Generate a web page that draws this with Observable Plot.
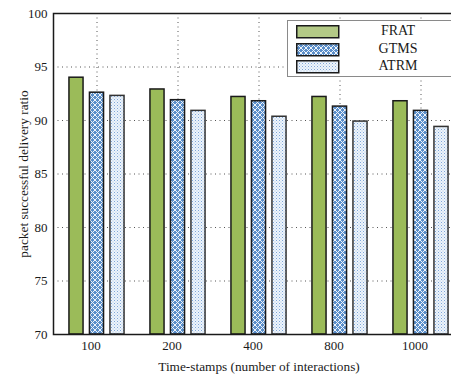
<!DOCTYPE html>
<html><head><meta charset="utf-8">
<script src="https://cdn.jsdelivr.net/npm/d3@7"></script>
<script src="https://cdn.jsdelivr.net/npm/@observablehq/plot@0.6"></script>
<style>
html,body{margin:0;padding:0;overflow:hidden;background:#fff;}
#wrap{position:relative;width:451px;height:374px;overflow:hidden;font-family:"Liberation Serif",serif;color:#1a1a1a;background:#fff;}
#wrap > svg{max-width:none !important;height:374px !important;width:470px !important;}
#legend{position:absolute;left:287px;top:20px;width:175px;height:57px;border:1.5px solid #8a8a8a;background:#fff;box-sizing:border-box;}
.row{position:absolute;left:8px;height:14px;width:170px;}
.row svg{position:absolute;left:0;top:0;}
.row span{position:absolute;left:62px;width:80px;text-align:center;top:-2px;font-size:14px;}
</style></head><body>
<svg width="0" height="0" style="position:absolute">
<defs>
<pattern id="pGTMS" width="5" height="5" patternUnits="userSpaceOnUse">
<rect width="5" height="5" fill="#5b8fca"/>
<path d="M0,0L5,5M5,0L0,5" stroke="#ffffff" stroke-width="1" opacity="0.9"/>
</pattern>
<pattern id="pATRM" width="3" height="3" patternUnits="userSpaceOnUse">
<rect width="3" height="3" fill="#eef4fb"/>
<rect x="0" y="0" width="1" height="1" fill="#7ea6d8"/>
<rect x="1.5" y="1.5" width="1" height="1" fill="#a9c4e6"/>
</pattern>
</defs>
</svg>
<div id="wrap"></div>
<script>
const groups = ["100", "200", "400", "800", "1000"];
const series = ["FRAT", "GTMS", "ATRM"];
const frat = [94.0, 92.9, 92.2, 92.2, 91.8];
const gtms = [92.6, 91.9, 91.8, 91.3, 90.9];
const atrm = [92.3, 90.9, 90.35, 89.9, 89.4];
const yTicks = [70, 75, 80, 85, 90, 95, 100];
const yDomain = [70, 100];
const xTitle = "Time-stamps (number of interactions)";
const yTitle = "packet successful delivery ratio";

const fills = {FRAT: "#9bbb59", GTMS: "url(#pGTMS)", ATRM: "url(#pATRM)"};
const legendFills = {FRAT: "#b3c986", GTMS: "url(#pGTMS)", ATRM: "url(#pATRM)"};
const strokes = {FRAT: "#1a1a1a", GTMS: "#1a1a1a", ATRM: "#333333"};
const values = {FRAT: frat, GTMS: gtms, ATRM: atrm};

const bw = 81.4, barW = 14.5, gap = 6;
function barMark(s, i) {
  const data = groups.map((g, j) => ({group: g, value: values[s][j]}));
  const left = (bw - barW) / 2 + (i - 1) * (barW + gap);
  return Plot.barY(data, {
    x: "group", y1: () => yDomain[0], y2: "value",
    fill: fills[s], stroke: strokes[s], strokeWidth: 1.5,
    insetLeft: left, insetRight: bw - left - barW
  });
}

const chart = Plot.plot({
  width: 470, height: 374,
  marginLeft: 53, marginRight: 6, marginTop: 13, marginBottom: 40,
  style: {fontFamily: "Liberation Serif", fontSize: "13px", color: "#1a1a1a", background: "transparent", maxWidth: "none"},
  x: {domain: groups, range: [55, 462], padding: 0, tickSize: 0, tickPadding: 6, label: null},
  y: {domain: yDomain, ticks: yTicks, tickSize: 0, tickPadding: 6, label: null},
  marks: [
    Plot.ruleY(yTicks.slice(1, -1), {y: d => d, stroke: "#555", strokeDasharray: "1,3.5", strokeWidth: 1}),
    Plot.ruleX(groups, {x: d => d, stroke: "#555", strokeDasharray: "1,3.5", strokeWidth: 1}),
    ...series.map(barMark),
    Plot.frame({stroke: "#1a1a1a", strokeWidth: 1.5}),
    Plot.text([xTitle], {frameAnchor: "bottom", dy: 36, text: d => d, fontSize: 13.3}),
    Plot.text([yTitle], {frameAnchor: "left", dx: -30, rotate: -90, textAnchor: "middle", text: d => d, fontSize: 13.3})
  ]
});
const wrap = document.getElementById("wrap");
wrap.appendChild(chart);
d3.select(chart).selectAll("g[aria-label='x-axis'] text, g[aria-label='x-axis tick label'] text").attr("dx", -6);

const legend = document.createElement("div");
legend.id = "legend";
series.forEach((s, i) => {
  const row = document.createElement("div");
  row.className = "row";
  row.style.top = (4 + i * 17.5) + "px";
  row.innerHTML = `<svg width="44" height="14"><rect x="0.75" y="0.75" width="42" height="12" fill="${legendFills[s]}" stroke="#1a1a1a" stroke-width="1.5"/></svg><span>${s}</span>`;
  legend.appendChild(row);
});
wrap.appendChild(legend);
</script>
</body></html>
